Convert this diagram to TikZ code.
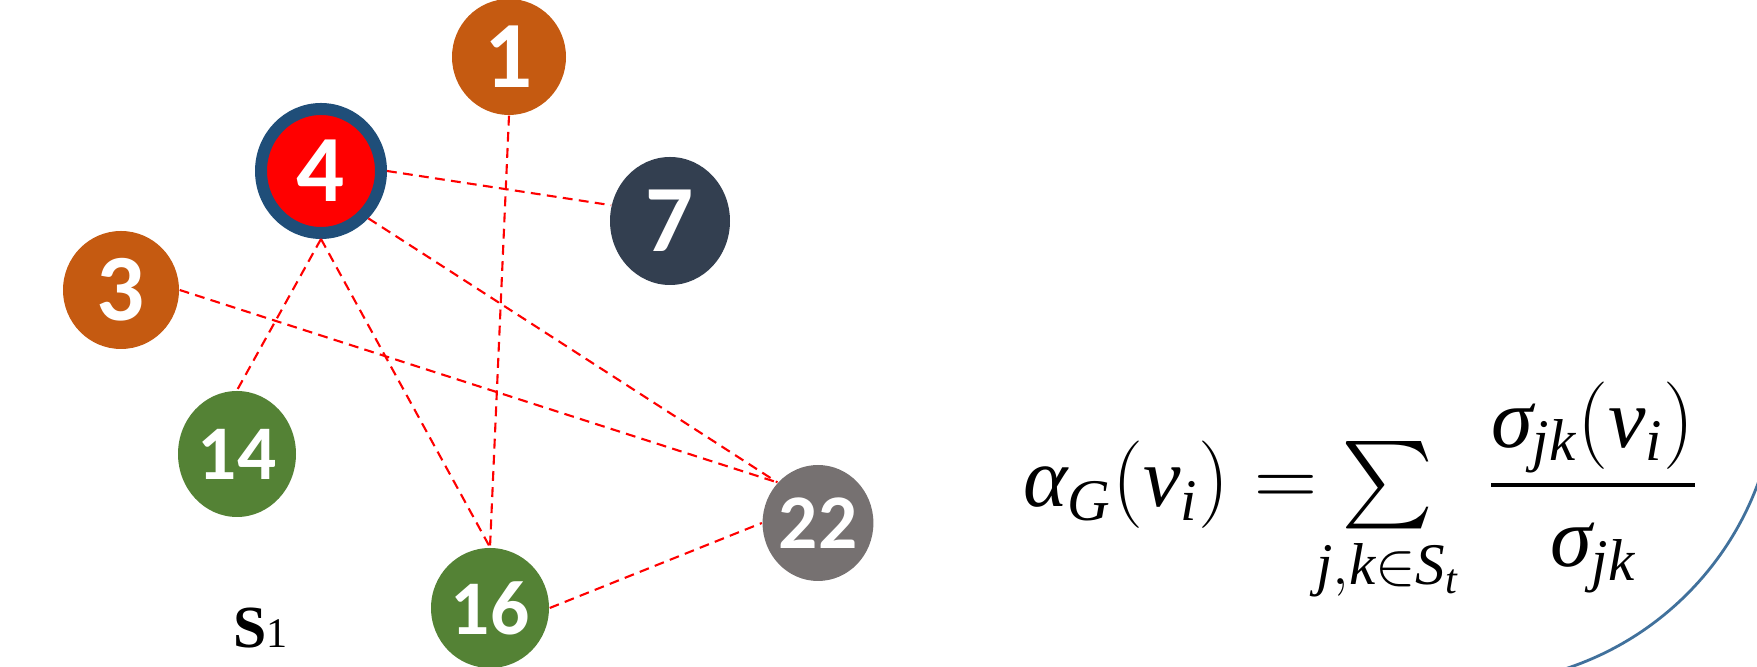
\documentclass[tikz,border=0pt]{standalone}
\usepackage{amsmath,mathtools}
\usepackage{fontspec}
\setmainfont{Liberation Serif}
\newfontfamily\numfont{Carlito}
\usetikzlibrary{shapes.geometric}
\definecolor{colO}{RGB}{197,90,17}
\definecolor{colN}{RGB}{51,63,80}
\definecolor{colG}{RGB}{84,130,53}
\definecolor{colY}{RGB}{118,113,113}
\definecolor{colR}{RGB}{255,0,0}
\definecolor{colB}{RGB}{31,78,121}
\definecolor{colA}{RGB}{65,113,156}
\newcommand{\mi}[1]{\textit{#1}}
\tikzset{
  v/.style  ={ellipse,inner sep=0pt,text=white,font=\numfont\bfseries\fontsize{27}{27}\selectfont},
  vv/.style ={v,font=\numfont\bfseries\fontsize{22}{22}\selectfont},
  hub/.style={v,draw=colB,line width=0.12cm,fill=colR},
  co/.style ={fill=colO}, cn/.style={fill=colN}, cg/.style={fill=colG}, cy/.style={fill=colY},
  lnk/.style={red,line width=0.6pt,dash pattern=on 2.8pt off 1.8pt},
  rim/.style={colA,line width=0.8pt},
}
\begin{document}
\begin{tikzpicture}
  \useasboundingbox (0,0) rectangle (17.57,6.67);
  % vertices
  \node[v,co,minimum width=1.14cm,minimum height=1.16cm] (n1) at (5.09,6.10){1};
  \node[hub,minimum width=1.20cm,minimum height=1.24cm] (n4) at (3.21,4.96){4};
  \node[v,cn,minimum width=1.20cm,minimum height=1.28cm] (n7) at (6.70,4.46){7};
  \node[v,co,minimum width=1.16cm,minimum height=1.18cm] (n3) at (1.21,3.77){3};
  \node[vv,cg,minimum width=1.18cm,minimum height=1.26cm] (n14) at (2.37,2.13){14};
  \node[vv,cg,minimum width=1.18cm,minimum height=1.20cm] (n16) at (4.90,0.59){16};
  \node[vv,cy,minimum width=1.10cm,minimum height=1.16cm] (n22) at (8.18,1.44){22};
  % links
  \draw[lnk] (n1.south) -- (n16.north);
  \draw[lnk] (n4.east) -- (n7.165);
  \draw[lnk] (n4.-45) -- (n22.135);
  \draw[lnk] (n4.south) -- (n14.north);
  \draw[lnk] (n4.south) -- (n16.north);
  \draw[lnk] (n3.east) -- (n22.135);
  \draw[lnk] (n16.east) -- (n22.west);
  % set label
  \node[anchor=base west,inner sep=0pt] (s1) at (2.33,0.19)
    {\fontsize{17}{17}\selectfont\textbf{S}\fontsize{12}{12}\selectfont 1};
  % formula
  \node[anchor=base west,inner sep=0pt] (fml) at (10.23,1.60)
    {\fontsize{24}{29}\selectfont
     $\mi{α}_{\mi{G}}(\mi{v}_{\mi{i}}) = \sum\limits_{\mathclap{\mi{j},\mi{k}\in \mi{S}_{\mi{t}}}} \mkern8mu
      \dfrac{\mi{σ}_{\mi{jk}}(\mi{v}_{\mi{i}})}{\mi{σ}_{\mi{jk}}}$};
  % boundary arc
  \begin{scope}
    \clip (0,0) rectangle (17.57,6.67);
    \coordinate (ctr) at (14.70,2.90);
    \draw[rim] (ctr) ++(-10:3.07) arc[start angle=-10,end angle=-80,radius=3.07];
  \end{scope}
\end{tikzpicture}
\end{document}
